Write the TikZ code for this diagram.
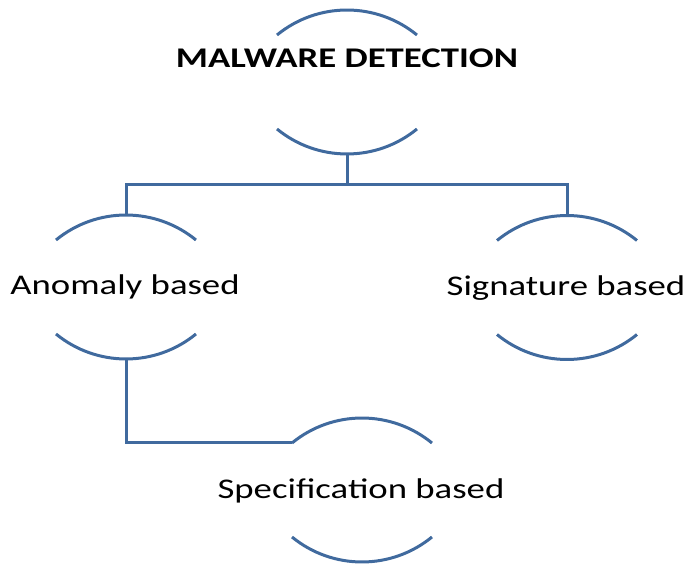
\documentclass[tikz,border=0pt]{standalone}
\usepackage{fontspec}
\setmainfont{Carlito}[FakeStretch=1.29]
\definecolor{arcblue}{RGB}{64,106,158}
\tikzset{
  lbl/.style={inner sep=0pt, text height=18pt, text depth=0pt, font=\fontsize{28.5}{34}\selectfont},
  arcline/.style={draw=arcblue, line width=3pt},
  conn/.style={draw=arcblue, line width=3pt, line join=miter}
}
\newcommand{\twoarcs}[1]{%
  \draw[arcline] ([shift={(-70pt,47pt)}]#1) arc[start angle=129.3, end angle=50.7, radius=110.5pt];
  \draw[arcline] ([shift={(-70pt,-47pt)}]#1) arc[start angle=230.7, end angle=309.3, radius=110.5pt];
  \coordinate (#1-t) at ([yshift=72pt]#1);
  \coordinate (#1-b) at ([yshift=-71pt]#1);
  \coordinate (#1-tl) at ([shift={(-70pt,47pt)}]#1);
}
\begin{document}
\begin{tikzpicture}[x=1pt,y=1pt]
\useasboundingbox (0,0) rectangle (688,565);
% nodes
\node[lbl, font=\fontsize{28.5}{34}\selectfont\bfseries] (top) at (347,506) {MALWARE DETECTION};
\coordinate (mc) at (347,483);
\node[lbl] (an) at (125,279) {Anomaly based};
\node[lbl] (sig) at (566,278) {Signature based};
\node[lbl] (sp) at (361,75) {Specification based};
% arcs
\twoarcs{mc}
\coordinate (anc) at (126,278);
\coordinate (sigc) at (567,277.5);
\coordinate (spc) at (362,75);
\twoarcs{anc}
\twoarcs{sigc}
\twoarcs{spc}
% connectors
\coordinate (bus) at (347,380);
\draw[conn] (mc-b) -- (bus);
\draw[conn] (anc-t) -- (anc-t |- bus) -- (sigc-t |- bus) -- (sigc-t);
\draw[conn] (anc-b) |- (spc-tl);
\end{tikzpicture}
\end{document}
